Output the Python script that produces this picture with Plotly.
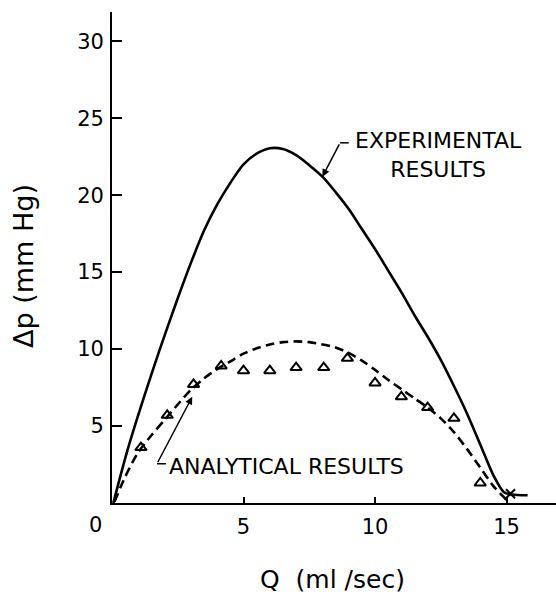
import plotly.graph_objects as go

# Experimental pressure-flow curve (solid)
exp_q = [0.05, 0.6, 1.2, 1.8, 2.5, 3.0, 3.5, 4.0, 4.5, 5.0, 5.5, 6.0, 6.5, 7.0, 7.5, 8.0,
         8.5, 9.0, 9.5, 10.0, 10.5, 11.0, 11.5, 12.0, 12.5, 13.0, 13.5, 14.0, 14.5, 14.9,
         15.2, 15.8]
exp_dp = [0.0, 3.5, 6.8, 9.9, 13.3, 15.6, 17.7, 19.4, 20.8, 22.0, 22.7, 23.05, 23.0, 22.6,
          21.95, 21.2, 20.2, 19.1, 17.8, 16.5, 15.1, 13.7, 12.2, 10.8, 9.3, 7.6, 5.8, 3.8,
          1.8, 0.7, 0.55, 0.5]

# Analytical curve (dashed)
ana_q = [0.1, 0.5, 1.0, 1.5, 2.0, 2.5, 3.0, 3.5, 4.0, 4.5, 5.0, 5.5, 6.0, 6.5, 7.0, 7.5,
         8.0, 8.5, 9.0, 9.5, 10.0, 10.5, 11.0, 11.5, 12.0, 12.5, 13.0, 13.5, 14.0, 14.5,
         15.0]
ana_dp = [0.1, 1.7, 3.3, 4.4, 5.4, 6.4, 7.35, 8.1, 8.7, 9.2, 9.7, 10.05, 10.3, 10.45, 10.5,
          10.45, 10.3, 10.1, 9.75, 9.25, 8.65, 8.0, 7.4, 6.8, 6.2, 5.5, 4.6, 3.5, 2.3, 1.1,
          0.2]

# Analytical point values (triangles)
tri_q = [1.1, 2.1, 3.1, 4.15, 5.0, 6.0, 7.0, 8.05, 8.95, 10.0, 11.0, 12.0, 13.0, 14.0]
tri_dp = [3.6, 5.7, 7.7, 8.9, 8.6, 8.6, 8.8, 8.8, 9.4, 7.8, 6.9, 6.2, 5.5, 1.3]

x_ticks = [5, 10, 15]
y_ticks = [5, 10, 15, 20, 25, 30]

FONT = "DejaVu Sans"

fig = go.Figure()
fig.add_trace(go.Scatter(x=exp_q, y=exp_dp, mode="lines",
                         line=dict(color="black", width=2.6, shape="spline", smoothing=0.8),
                         showlegend=False, hoverinfo="skip"))
fig.add_trace(go.Scatter(x=ana_q, y=ana_dp, mode="lines",
                         line=dict(color="black", width=2.6, dash="9px,5px", shape="spline", smoothing=0.8),
                         showlegend=False, hoverinfo="skip"))
fig.add_trace(go.Scatter(x=tri_q, y=tri_dp, mode="markers",
                         marker=dict(symbol="triangle-up-open", size=10, color="black", line=dict(width=2)),
                         showlegend=False, hoverinfo="skip"))
fig.add_trace(go.Scatter(x=[15.15], y=[0.6], mode="markers",
                         marker=dict(symbol="x-thin", size=9, color="black", line=dict(width=2, color="black")),
                         showlegend=False, hoverinfo="skip"))

# Curve labels with leader lines
fig.add_annotation(x=9.16, y=22.6, xref="x", yref="y", xanchor="left", yanchor="middle",
                   text="EXPERIMENTAL<br>RESULTS", align="center", showarrow=False,
                   font=dict(family=FONT, size=22, color="black"))
fig.add_annotation(x=8.0, y=21.2, ax=8.67, ay=23.4, xref="x", yref="y", axref="x", ayref="y",
                   text="", showarrow=True, arrowhead=2, arrowsize=1, arrowwidth=1.5, arrowcolor="black")
fig.add_shape(type="line", x0=8.67, y0=23.4, x1=9.0, y1=23.4, xref="x", yref="y",
              line=dict(color="black", width=1.5))

fig.add_annotation(x=2.1, y=2.4, xref="x", yref="y", xanchor="left", yanchor="middle",
                   text="ANALYTICAL RESULTS", showarrow=False,
                   font=dict(family=FONT, size=22, color="black"))
fig.add_annotation(x=3.05, y=6.9, ax=1.71, ay=2.55, xref="x", yref="y", axref="x", ayref="y",
                   text="", showarrow=True, arrowhead=2, arrowsize=1, arrowwidth=1.5, arrowcolor="black")
fig.add_shape(type="line", x0=1.71, y0=2.55, x1=2.05, y1=2.55, xref="x", yref="y",
              line=dict(color="black", width=1.5))

# Origin label sits to the left of the axis corner
fig.add_annotation(x=0, y=0, xref="x", yref="y", text="0", showarrow=False,
                   xshift=-17, yshift=-22, font=dict(family=FONT, size=21, color="black"))

# Axis titles
fig.add_annotation(x=-0.198, y=0.483, xref="paper", yref="paper", text="Δp (mm Hg)",
                   textangle=-90, showarrow=False, xanchor="center", yanchor="middle",
                   font=dict(family=FONT, size=27, color="black"))
fig.add_annotation(x=0.497, y=-0.155, xref="paper", yref="paper", text="Q  (ml /sec)",
                   showarrow=False, xanchor="center", yanchor="middle", borderpad=0,
                   font=dict(family=FONT, size=25, color="black"))

fig.update_layout(
    width=556, height=595,
    margin=dict(l=112, r=0, t=12, b=92),
    paper_bgcolor="white", plot_bgcolor="white",
    font=dict(family=FONT, color="black"),
    xaxis=dict(range=[0, 16.88], tickvals=x_ticks, ticktext=[str(v) for v in x_ticks],
               ticks="inside", ticklen=6, tickwidth=1.5, tickcolor="black",
               showline=True, linecolor="black", linewidth=1.8, showgrid=False, zeroline=False,
               tickfont=dict(family=FONT, size=21), ticklabelstandoff=4),
    yaxis=dict(range=[0, 31.9], tickvals=y_ticks, ticktext=[str(v) for v in y_ticks],
               ticks="inside", ticklen=10, tickwidth=1.5, tickcolor="black",
               showline=True, linecolor="black", linewidth=1.8, showgrid=False, zeroline=False,
               tickfont=dict(family=FONT, size=21), ticklabelstandoff=2),
)

fig.write_html("out.html")
